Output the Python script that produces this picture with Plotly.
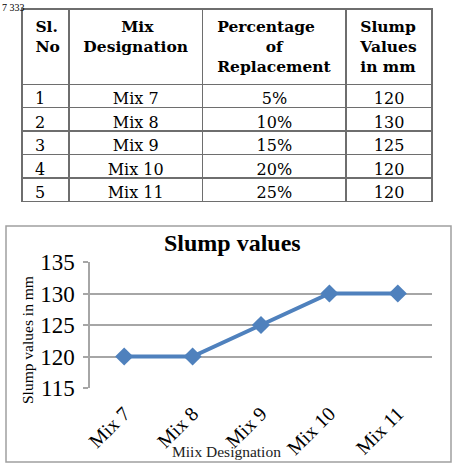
import plotly.graph_objects as go

# ---- data ----
sl_no = [1, 2, 3, 4, 5]
mix_designation = ["Mix 7", "Mix 8", "Mix 9", "Mix 10", "Mix 11"]
replacement = ["5%", "10%", "15%", "20%", "25%"]
table_slump = [120, 130, 125, 120, 120]
chart_slump = [120, 120, 125, 130, 130]
header_lines = [["Sl.", "No"], ["Mix", "Designation"], ["Percentage", "of", "Replacement"], ["Slump", "Values", "in mm"]]
# leading non-breaking spaces so the shorter header lines sit centred
header_pad = [[1, 1], [7, 0], [0, 9, 0], [0, 0, 0]]
y_ticks = [115, 120, 125, 130, 135]

W, H = 455, 465
def px(x):
    return x / W
def py(y):
    return 1 - y / H

GRID = "#a6a6a6"
BLUE = "#4F81BD"
NB = "\u00a0"

header_values = []
for lines, pads in zip(header_lines, header_pad):
    header_values.append("<br>".join("<b>" + NB * p + t + "</b>" for t, p in zip(lines, pads)))

fig = go.Figure()

fig.add_trace(go.Table(
    domain=dict(x=[px(22), px(433)], y=[py(203), py(9)]),
    columnwidth=[47, 134, 144, 86],
    header=dict(
        values=header_values,
        align=["left", "center", "center", "center"],
        font=dict(family="DejaVu Serif", size=15.5, color="black"),
        fill_color="white",
        line=dict(color="#6e6e6e", width=1.5),
        height=71,
    ),
    cells=dict(
        values=[sl_no, mix_designation, replacement, table_slump],
        prefix=[NB, "", "", ""],
        align=["left", "center", "center", "center"],
        font=dict(family="DejaVu Serif", size=16, color="black"),
        fill_color="white",
        line=dict(color="#6e6e6e", width=1.5),
        height=23.4,
    ),
))

fig.add_trace(go.Scatter(
    x=mix_designation, y=chart_slump,
    mode="lines+markers",
    line=dict(color=BLUE, width=4),
    marker=dict(symbol="diamond", size=14, color=BLUE),
    showlegend=False,
    hoverinfo="skip",
))

fig.update_layout(
    width=W, height=H,
    margin=dict(l=0, r=0, t=0, b=0, autoexpand=False),
    paper_bgcolor="white",
    plot_bgcolor="white",
    showlegend=False,
    font=dict(family="Liberation Serif", color="black"),
    xaxis=dict(
        domain=[px(90), px(432)],
        type="category",
        range=[-0.5, 4.5],
        showgrid=False,
        showline=False,
        ticks="",
        tickangle=-45,
        ticklabelstandoff=9,
        tickfont=dict(family="Liberation Serif", size=20, color="black"),
        zeroline=False,
        fixedrange=True,
    ),
    yaxis=dict(
        domain=[py(388), py(262)],
        range=[115, 135],
        tickvals=y_ticks,
        showgrid=True,
        gridcolor=GRID,
        gridwidth=1.5,
        showline=True,
        linecolor=GRID,
        linewidth=1.5,
        ticks="outside",
        ticklen=5,
        tickcolor=GRID,
        tickwidth=1.5,
        ticklabelstandoff=4,
        tickfont=dict(family="Liberation Serif", size=23, color="black"),
        zeroline=False,
        fixedrange=True,
    ),
    shapes=[
        dict(type="rect", xref="paper", yref="paper",
             x0=px(6), x1=px(451), y0=py(462), y1=py(226),
             line=dict(color="#a0a0a0", width=1.5), fillcolor="rgba(0,0,0,0)", layer="below"),
    ],
    annotations=[
        dict(text="<b>Slump values</b>", xref="paper", yref="paper",
             x=px(233), y=py(243), xanchor="center", yanchor="middle",
             showarrow=False, font=dict(family="Liberation Serif", size=24, color="black")),
        dict(text="Slump values in mm", xref="paper", yref="paper",
             x=px(27), y=py(340), xanchor="center", yanchor="middle", textangle=-90,
             showarrow=False, font=dict(family="Liberation Serif", size=15.5, color="black")),
        dict(text="Miix Designation", xref="paper", yref="paper",
             x=px(226), y=py(451), xanchor="center", yanchor="middle",
             showarrow=False, font=dict(family="Liberation Serif", size=15.5, color="#222222")),
        dict(text="7 333", xref="paper", yref="paper",
             x=0, y=1, xanchor="left", yanchor="top",
             showarrow=False, font=dict(family="Liberation Serif", size=10, color="black")),
    ],
)

fig.write_html("out.html")
